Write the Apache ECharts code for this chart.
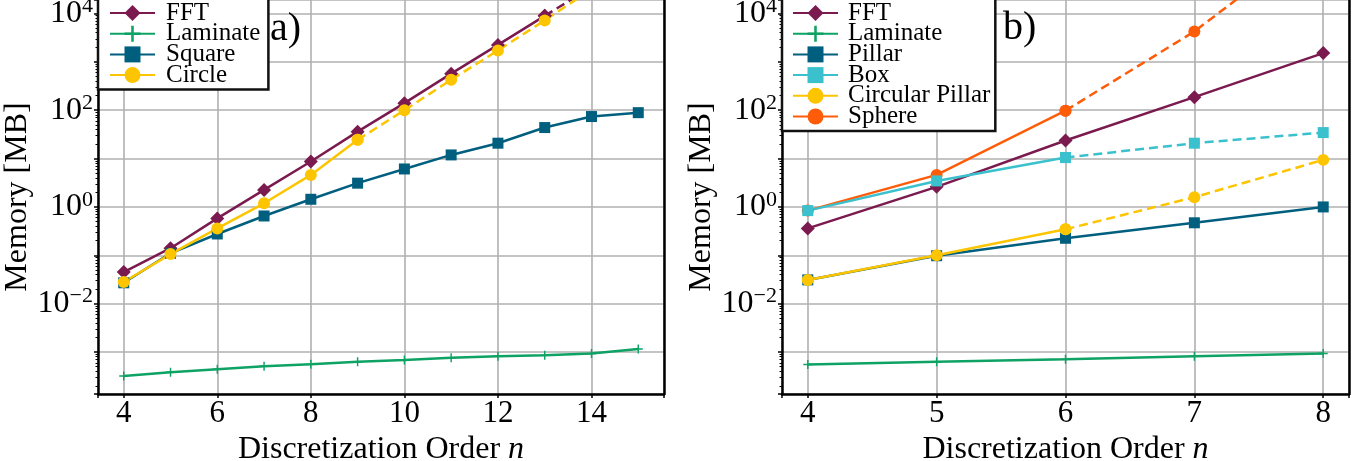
<!DOCTYPE html>
<html><head><meta charset="utf-8">
<script src="https://cdn.jsdelivr.net/npm/echarts@6/dist/echarts.min.js"></script>
<style>html,body{margin:0;padding:0;background:#fff}#c{width:1363px;height:461px}</style>
</head><body><div id="c"></div>
<script>
// ---- Panel a) data ----
const nA = [4, 5, 6, 7, 8, 9, 10, 11, 12, 13, 14, 15];
const fftA = [0.045, 0.14, 0.58, 2.25, 8.7, 36, 140, 570, 2240, 8950, 35000, 140000];
const fftA_dashFrom = 13;
const laminateA = [3.2e-4, 3.8e-4, 4.4e-4, 5.1e-4, 5.6e-4, 6.3e-4, 6.8e-4, 7.6e-4, 8.2e-4, 8.6e-4, 9.3e-4, 1.15e-3];
const squareA = [0.027, 0.11, 0.276, 0.65, 1.44, 3.1, 6.1, 11.9, 20.8, 43.8, 74, 89];
const circleA = [0.028, 0.106, 0.36, 1.19, 4.6, 24.4, 100, 426, 1720, 7200, 31600, 130000];
const circleA_dashFrom = 9;

// ---- Panel b) data ----
const nB = [4, 5, 6, 7, 8];
const fftB = [0.36, 2.6, 23.6, 186, 1520];
const laminateB = [5.5e-4, 6.3e-4, 7.1e-4, 8.2e-4, 9.3e-4];
const pillarB = [0.031, 0.098, 0.225, 0.47, 1.0];
const boxB = [0.84, 3.45, 10.5, 20.8, 34.5];
const boxB_dashFrom = 6;
const circPillarB = [0.031, 0.10, 0.345, 1.59, 9.4];
const circPillarB_dashFrom = 6;
const sphereB = [0.84, 4.6, 98, 4250, 450000];
const sphereB_dashFrom = 6;

// axis ranges / labels
const legendA = ['FFT', 'Laminate', 'Square', 'Circle'];
const legendB = ['FFT', 'Laminate', 'Pillar', 'Box', 'Circular Pillar', 'Sphere'];
const yMin = Math.pow(10, -3.868), yMax = Math.pow(10, 4.279);
const xRangeA = [3.45, 15.55], xRangeB = [3.8, 8.2];

const FONT = 'Liberation Serif';
const C = {fft:'#7b1a4f', lam:'#0ea264', sq:'#005f7f', box:'#3bc1cd', circ:'#fdc500', sph:'#ff5c0a'};
const PLUS = 'path://M4.2,0H5.8V4.2H10V5.8H5.8V10H4.2V5.8H0V4.2H4.2Z';

function mk(name, xs, ys, dashFrom, color, symbol, size, gi) {
  const solid = [], dashed = [];
  xs.forEach((x, i) => {
    if (ys[i] == null) return;
    if (dashFrom == null || x <= dashFrom) solid.push([x, ys[i]]);
    if (dashFrom != null && x >= dashFrom) dashed.push([x, ys[i]]);
  });
  const base = {
    type: 'line', xAxisIndex: gi, yAxisIndex: gi * 2, symbol: symbol, symbolSize: size,
    itemStyle: {color: color}, showAllSymbol: true, animation: false, clip: true
  };
  const out = [Object.assign({}, base, {name: name, data: solid, lineStyle: {color: color, width: 2.5}})];
  if (dashed.length) out.push(Object.assign({}, base, {name: name + ' (ext)', data: dashed,
    lineStyle: {color: color, width: 2.5, type: [9, 5]}}));
  return out;
}

function yLabel(v) {
  const l = Math.log10(v);
  const e = Math.round(l);
  if (Math.abs(l - e) > 1e-6 || e % 2 !== 0) return '';
  return '{b|10}{s|' + (e < 0 ? '\u2212' + (-e) : e) + '}';
}

function yAxes(gi) {
  return [{
    type: 'log', logBase: 10, gridIndex: gi, min: yMin, max: yMax,
    name: 'Memory [MB]', nameLocation: 'middle', nameGap: 60,
    nameTextStyle: {fontFamily: FONT, fontSize: 32, color: '#000'},
    axisLine: {show: true, lineStyle: {color: '#000', width: 2.5}},
    axisTick: {show: true, length: 4, lineStyle: {color: '#000', width: 1.5}},
    minorTick: {show: true, splitNumber: 9, length: 2.5, lineStyle: {color: '#000', width: 1}},
    splitLine: {show: true, lineStyle: {color: '#b0b0b0', width: 1.6}},
    axisLabel: {formatter: yLabel, margin: 5, color: '#000',
      rich: {b: {fontFamily: FONT, fontSize: 32, color: '#000', lineHeight: 36},
             s: {fontFamily: FONT, fontSize: 22, color: '#000', verticalAlign: 'top', lineHeight: 20}}}
  }, {
    type: 'log', logBase: 10, gridIndex: gi, min: yMin, max: yMax, position: 'right',
    axisLine: {show: true, lineStyle: {color: '#000', width: 2.5}},
    axisTick: {show: false}, axisLabel: {show: false}, splitLine: {show: false}
  }];
}

function xAxis(gi, range, split) {
  return {
    type: 'value', gridIndex: gi, min: range[0], max: range[1], splitNumber: split,
    name: 'Discretization Order {i|n}', nameLocation: 'middle', nameGap: 18,
    nameTextStyle: {fontFamily: FONT, fontSize: 32, color: '#000',
      rich: {i: {fontFamily: FONT, fontSize: 32, fontStyle: 'italic', color: '#000'}}},
    axisLine: {onZero: false, lineStyle: {color: '#000', width: 2.5}},
    axisTick: {show: true, length: 4, lineStyle: {color: '#000', width: 1.5}},
    splitLine: {show: true, lineStyle: {color: '#b0b0b0', width: 1.6}},
    axisLabel: {margin: 4, color: '#000', fontFamily: FONT, fontSize: 31,
      formatter: v => (Math.abs(v - Math.round(v)) < 1e-6 ? String(Math.round(v)) : '')}
  };
}

function legend(names, left, padL, padR, textPad) {
  return {
    data: names, orient: 'vertical', left: left, top: -5.5,
    padding: [6, padR, 2, padL], itemGap: -4.3, itemWidth: 45, itemHeight: 20,
    backgroundColor: '#fff', borderColor: '#111', borderWidth: 2.5, borderRadius: 0,
    textStyle: {fontFamily: FONT, fontSize: 25, color: '#000', padding: [0, 0, 0, textPad]},
    selectedMode: false, z: 10
  };
}

const series = [].concat(
  mk('FFT', nA, fftA, fftA_dashFrom, C.fft, 'diamond', 14, 0),
  mk('Laminate', nA, laminateA, null, C.lam, PLUS, 9, 0),
  mk('Square', nA, squareA, null, C.sq, 'rect', 11, 0),
  mk('Circle', nA, circleA, circleA_dashFrom, C.circ, 'circle', 12, 0),
  mk('FFT', nB, fftB, null, C.fft, 'diamond', 14, 1),
  mk('Laminate', nB, laminateB, null, C.lam, PLUS, 9, 1),
  mk('Pillar', nB, pillarB, null, C.sq, 'rect', 11, 1),
  mk('Sphere', nB, sphereB, sphereB_dashFrom, C.sph, 'circle', 12, 1),
  mk('Box', nB, boxB, boxB_dashFrom, C.box, 'rect', 11, 1),
  mk('Circular Pillar', nB, circPillarB, circPillarB_dashFrom, C.circ, 'circle', 12, 1)
);

const chart = echarts.init(document.getElementById('c'), null, {renderer: 'canvas'});
chart.setOption({
  animation: false,
  backgroundColor: '#fff',
  title: [
    {text: 'a)', left: 270, top: 9, padding: 0, textStyle: {fontFamily: FONT, fontSize: 40, fontWeight: 'normal', color: '#000'}},
    {text: 'b)', left: 1003, top: 8, padding: 0, textStyle: {fontFamily: FONT, fontSize: 40, fontWeight: 'normal', color: '#000'}}
  ],
  grid: [
    {left: 98, right: 699, top: 0, bottom: 67, outerBoundsMode: 'none', containLabel: false},
    {left: 782, right: 14, top: 0, bottom: 67, outerBoundsMode: 'none', containLabel: false}
  ],
  xAxis: [xAxis(0, xRangeA, 6), xAxis(1, xRangeB, 4)],
  yAxis: [].concat(yAxes(0), yAxes(1)),
  legend: [legend(legendA, 98, 11, 8, 6), legend(legendB, 782, 10, 5, 5)],
  series: series
});
</script></body></html>
